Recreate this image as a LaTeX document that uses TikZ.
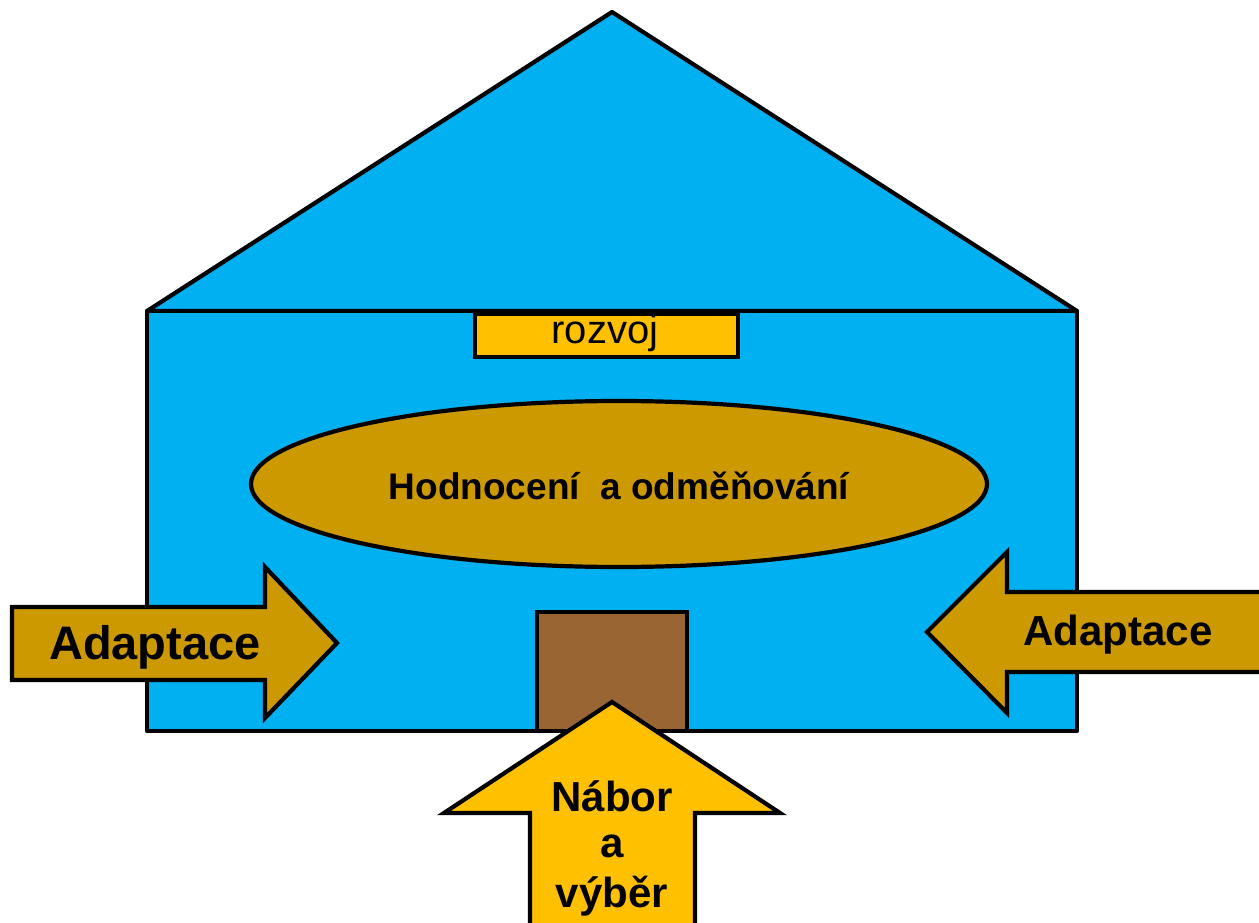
\documentclass[tikz,border=0pt]{standalone}
\usepackage{fontspec}
\setmainfont{Liberation Sans}
\usetikzlibrary{shapes.geometric}
\definecolor{houseblue}{HTML}{00B0F0}
\definecolor{gold}{HTML}{CC9900}
\definecolor{amber}{HTML}{FFC000}
\definecolor{brownbox}{HTML}{996633}
\tikzset{
  outl/.style={draw=black, line width=4.2pt, line join=miter},
  boldlabel/.style={font=\bfseries\fontsize{#1}{#1}\selectfont, inner sep=0pt},
}
\begin{document}
\begin{tikzpicture}[x=1pt,y=-1pt]
\useasboundingbox (0,0) rectangle (1259,923);
% roof
\draw[outl, fill=houseblue, line join=round] (147,311) -- (612,12) -- (1077,311) -- cycle;
% body
\draw[outl, fill=houseblue, line join=round] (147,311) rectangle (1077,731);
% rozvoj box
\node[outl, fill=amber, minimum width=263pt, minimum height=43pt, inner sep=0pt,
      anchor=north west] (rozvoj) at (473,312) {};
\node[font=\fontsize{40}{40}\selectfont, inner sep=0pt] (rozvojtxt) at (605,333) {rozvoj};
% ellipse
\node[outl, fill=gold, ellipse, minimum width=736pt, minimum height=166pt, inner sep=0pt]
  (hod) at (619,484) {};
\node[boldlabel=37] (hodtxt) at (619,486) {Hodnocení \ a odměňování};
% brown door
\draw[outl, fill=brownbox] (537,612) rectangle (687,731);
% left arrow
\draw[outl, fill=gold] (12,607) -- (265,607) -- (265,567) -- (337,643) -- (265,718)
  -- (265,680) -- (12,680) -- cycle;
\node[boldlabel=47] (adl) at (155,647) {Adaptace};
% right arrow
\draw[outl, fill=gold] (1270,592) -- (1007,592) -- (1007,552) -- (927,632) -- (1007,713)
  -- (1007,672) -- (1270,672) -- cycle;
\node[boldlabel=42] (adr) at (1118,635) {Adaptace};
% up arrow
\draw[outl, fill=amber] (530,935) -- (530,813) -- (444,813) -- (612,702) -- (780,813)
  -- (695,813) -- (695,935) -- cycle;
\node[boldlabel=42] (nabor) at (612,796) {Nábor};
\node[boldlabel=42] (a) at (612,846) {a};
\node[boldlabel=42] (vyber) at (612,896) {výběr};
\end{tikzpicture}
\end{document}
